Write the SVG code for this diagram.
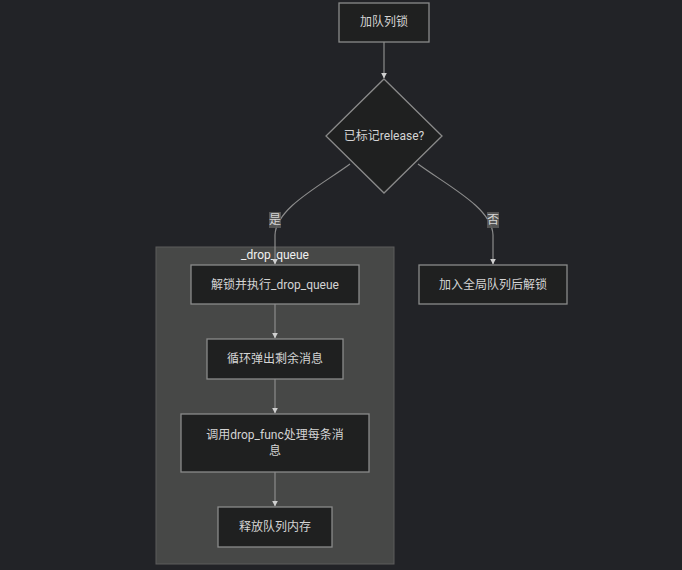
<svg xmlns="http://www.w3.org/2000/svg" width="682" height="570" viewBox="0 0 682 570">
<defs>
<style>
.bg{fill:#222327}
.node rect,.node polygon{fill:#1f2020;stroke:#8a8a8a;stroke-width:1.3}
.t{font-family:Roboto,"Noto Sans CJK SC",sans-serif;font-size:12px;fill:#d4d4d4;text-anchor:middle;dominant-baseline:central}
.cl{fill:#474847;stroke:#5c5c5c;stroke-width:1}
.ct{font-family:Roboto,"Noto Sans CJK SC",sans-serif;font-size:12px;fill:#f0f0f0;text-anchor:middle;dominant-baseline:central}
.e{fill:none;stroke:#8c8c8c;stroke-width:1.2;marker-end:url(#arr)}
.lb{fill:#5a5a5a;opacity:0.9}
</style>
<marker id="arr" viewBox="0 0 10 10" refX="9" refY="5" markerWidth="6" markerHeight="6" markerUnits="userSpaceOnUse" orient="auto">
<path d="M0,0 L10,5 L0,10 z" fill="#d0d0d0"/>
</marker>
</defs>
<rect class="bg" x="0" y="0" width="682" height="570"/>
<g id="cluster_drop_queue">
<rect class="cl" x="156" y="247" width="238" height="317"/>
<text class="ct" x="275" y="255">_drop_queue</text>
</g>
<g id="edges">
<path class="e" d="M384,42 L384,78"/>
<path class="e" d="M350,164 C320,186 276,208 275,235 L275,264"/>
<path class="e" d="M418,164 C448,186 492,208 493,235 L493,264"/>
<path class="e" d="M275,304 L275,338"/>
<path class="e" d="M275,379 L275,413"/>
<path class="e" d="M275,472 L275,506"/>
<rect class="lb" x="269" y="212" width="12" height="16"/>
<text class="t" x="275" y="220">是</text>
<rect class="lb" x="487" y="212" width="12" height="16"/>
<text class="t" x="493" y="220">否</text>
</g>
<g id="n_lock" class="node">
<rect x="339" y="3" width="90" height="39"/>
<text class="t" x="384" y="22">加队列锁</text>
</g>
<g id="n_check" class="node">
<polygon points="384,79 442,136 384,193 326,136"/>
<text class="t" x="384" y="136">已标记release?</text>
</g>
<g id="n_unlock_drop" class="node">
<rect x="191" y="265" width="168" height="39"/>
<text class="t" x="275" y="284.5">解锁并执行_drop_queue</text>
</g>
<g id="n_global" class="node">
<rect x="419" y="265" width="148" height="39"/>
<text class="t" x="493" y="284.5">加入全局队列后解锁</text>
</g>
<g id="n_pop" class="node">
<rect x="207" y="339" width="136" height="40"/>
<text class="t" x="275" y="359">循环弹出剩余消息</text>
</g>
<g id="n_call" class="node">
<rect x="181" y="414" width="188" height="58"/>
<text class="t" x="275" y="435">调用drop_func处理每条消</text>
<text class="t" x="275" y="451">息</text>
</g>
<g id="n_free" class="node">
<rect x="218" y="507" width="114" height="40"/>
<text class="t" x="275" y="527">释放队列内存</text>
</g>
</svg>
